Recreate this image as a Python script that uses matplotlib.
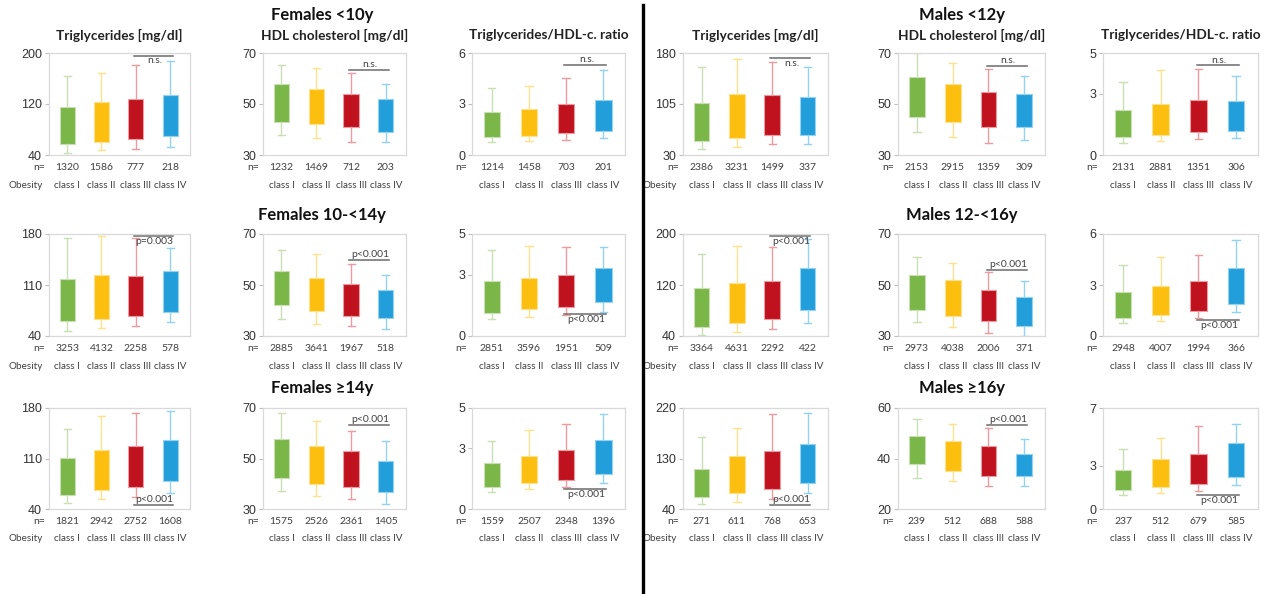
import matplotlib
matplotlib.use("Agg")
import matplotlib.pyplot as plt
from matplotlib.transforms import blended_transform_factory

plt.rcParams["font.family"] = ["Liberation Sans", "DejaVu Sans"]

classes = ["class I", "class II", "class III", "class IV"]
colors = ["#7ab648", "#fcbf10", "#c0111f", "#229fdb"]
whisker_colors = ["#c9e0b4", "#fde18c", "#eb9ca1", "#94d3f0"]

# each box: (lower whisker, q1, q3, upper whisker)
# Females <10y
f1_tg = [(43.7, 57.3, 115.5, 164.3), (47.3, 61.0, 122.4, 169.0), (50.0, 65.2, 128.1, 181.0), (52.6, 70.0, 134.4, 187.4)]
f1_hdl = [(37.9, 42.9, 57.8, 65.3), (36.7, 42.0, 56.0, 64.0), (35.0, 41.0, 53.9, 62.0), (35.0, 38.9, 51.9, 57.9)]
f1_ratio = [(0.75, 1.04, 2.52, 3.95), (0.81, 1.14, 2.70, 4.05), (0.89, 1.28, 3.01, 4.52), (1.00, 1.40, 3.23, 5.00)]
# Males <12y
m1_tg = [(38.4, 50.7, 106.2, 158.9), (42.3, 55.6, 119.5, 170.7), (46.2, 59.0, 117.5, 167.2), (46.7, 59.5, 114.6, 158.9)]
m1_hdl = [(38.9, 44.8, 60.6, 70.0), (37.0, 42.9, 57.8, 65.9), (34.9, 40.9, 54.9, 63.8), (36.0, 41.0, 54.0, 61.0)]
m1_ratio = [(0.61, 0.89, 2.21, 3.57), (0.69, 0.98, 2.52, 4.16), (0.80, 1.12, 2.70, 4.23), (0.85, 1.20, 2.66, 3.89)]
# Females 10-<14y
f2_tg = [(46.9, 60.7, 118.8, 174.5), (50.6, 64.0, 123.4, 177.7), (53.8, 67.6, 122.0, 174.0), (58.9, 73.6, 129.3, 160.7)]
f2_hdl = [(36.8, 42.0, 55.3, 63.9), (34.9, 40.0, 52.9, 62.0), (34.0, 37.9, 50.3, 58.2), (32.9, 37.0, 47.9, 54.1)]
f2_ratio = [(0.82, 1.13, 2.68, 4.21), (0.92, 1.30, 2.85, 4.41), (1.05, 1.41, 2.98, 4.36), (1.17, 1.66, 3.31, 4.36)]
# Males 12-<16y
m2_tg = [(42.1, 54.2, 114.7, 167.9), (45.8, 60.0, 122.6, 181.0), (51.6, 66.8, 126.8, 179.5), (60.0, 80.5, 146.3, 192.6)]
m2_hdl = [(35.5, 40.1, 54.0, 61.0), (33.6, 37.9, 51.8, 58.7), (31.0, 35.9, 47.9, 55.0), (30.0, 33.9, 45.1, 51.7)]
m2_ratio = [(0.77, 1.07, 2.59, 4.18), (0.87, 1.22, 2.94, 4.66), (1.07, 1.46, 3.26, 4.74), (1.40, 1.90, 4.00, 5.64)]
# Females >=14y
f3_tg = [(47.8, 59.7, 110.2, 151.0), (53.3, 65.7, 121.2, 169.4), (57.0, 70.7, 127.7, 172.7), (62.0, 79.0, 135.0, 176.3)]
f3_hdl = [(37.1, 42.2, 57.8, 67.9), (35.0, 40.0, 54.8, 64.9), (33.9, 38.8, 52.8, 60.8), (31.8, 36.7, 48.9, 56.9)]
f3_ratio = [(0.82, 1.11, 2.28, 3.36), (0.97, 1.30, 2.64, 3.89), (1.08, 1.46, 2.90, 4.23), (1.28, 1.74, 3.43, 4.70)]
# Males >=16y
m3_tg = [(48.3, 61.8, 110.8, 168.0), (53.0, 68.9, 134.4, 184.6), (58.3, 74.8, 142.7, 208.8), (68.9, 86.6, 155.7, 211.1)]
m3_hdl = [(32.1, 37.7, 48.9, 55.8), (31.0, 35.1, 46.9, 53.8), (29.0, 33.0, 44.8, 51.9), (29.0, 32.9, 41.9, 47.8)]
m3_ratio = [(0.99, 1.33, 2.71, 4.13), (1.12, 1.54, 3.44, 4.89), (1.22, 1.74, 3.81, 5.74), (1.68, 2.23, 4.54, 5.92)]

# sample sizes
n_f1_tg = [1320, 1586, 777, 218]
n_f1_hdl = [1232, 1469, 712, 203]
n_f1_ratio = [1214, 1458, 703, 201]
n_m1_tg = [2386, 3231, 1499, 337]
n_m1_hdl = [2153, 2915, 1359, 309]
n_m1_ratio = [2131, 2881, 1351, 306]
n_f2_tg = [3253, 4132, 2258, 578]
n_f2_hdl = [2885, 3641, 1967, 518]
n_f2_ratio = [2851, 3596, 1951, 509]
n_m2_tg = [3364, 4631, 2292, 422]
n_m2_hdl = [2973, 4038, 2006, 371]
n_m2_ratio = [2948, 4007, 1994, 366]
n_f3_tg = [1821, 2942, 2752, 1608]
n_f3_hdl = [1575, 2526, 2361, 1405]
n_f3_ratio = [1559, 2507, 2348, 1396]
n_m3_tg = [271, 611, 768, 653]
n_m3_hdl = [239, 512, 688, 588]
n_m3_ratio = [237, 512, 679, 585]

# y ticks per panel
ticks_f1 = [[40, 120, 200], [30, 50, 70], [0, 3, 6]]
ticks_m1 = [[30, 105, 180], [30, 50, 70], [0, 3, 5]]
ticks_f2 = [[40, 110, 180], [30, 50, 70], [0, 3, 5]]
ticks_m2 = [[40, 120, 200], [30, 50, 70], [0, 3, 6]]
ticks_f3 = [[40, 110, 180], [30, 50, 70], [0, 3, 5]]
ticks_m3 = [[40, 130, 220], [20, 40, 60], [0, 3, 7]]

# class III vs IV comparison: (line y, label, text above/below)
sig_f1 = [(196, "n.s.", "below"), (63.3, "n.s.", "above"), (5.3, "n.s.", "above")]
sig_m1 = [(172, "n.s.", "below"), (65, "n.s.", "above"), (4.4, "n.s.", "above")]
sig_f2 = [(177, "p=0.003", "below"), (59.8, "p<0.001", "above"), (1.08, "p<0.001", "below")]
sig_m2 = [(197, "p<0.001", "below"), (55.9, "p<0.001", "above"), (0.94, "p<0.001", "below")]
sig_f3 = [(45.5, "p<0.001", "above"), (63.3, "p<0.001", "above"), (0.99, "p<0.001", "below")]
sig_m3 = [(47, "p<0.001", "above"), (53.3, "p<0.001", "above"), (0.97, "p<0.001", "below")]

panel_titles = ["Triglycerides [mg/dl]", "HDL cholesterol [mg/dl]", "Triglycerides/HDL-c. ratio"]
group_titles = [["Females <10y", "Males <12y"],
                ["Females 10-<14y", "Males 12-<16y"],
                ["Females ≥14y", "Males ≥16y"]]

rows = [
    [(f1_tg, n_f1_tg), (f1_hdl, n_f1_hdl), (f1_ratio, n_f1_ratio),
     (m1_tg, n_m1_tg), (m1_hdl, n_m1_hdl), (m1_ratio, n_m1_ratio)],
    [(f2_tg, n_f2_tg), (f2_hdl, n_f2_hdl), (f2_ratio, n_f2_ratio),
     (m2_tg, n_m2_tg), (m2_hdl, n_m2_hdl), (m2_ratio, n_m2_ratio)],
    [(f3_tg, n_f3_tg), (f3_hdl, n_f3_hdl), (f3_ratio, n_f3_ratio),
     (m3_tg, n_m3_tg), (m3_hdl, n_m3_hdl), (m3_ratio, n_m3_ratio)],
]
row_ticks = [ticks_f1 + ticks_m1, ticks_f2 + ticks_m2, ticks_f3 + ticks_m3]
row_sigs = [sig_f1 + sig_m1, sig_f2 + sig_m2, sig_f3 + sig_m3]

W, H = 1266, 594
fig = plt.figure(figsize=(W / 100, H / 100), dpi=100)

col_left = [49, 263, 472, 683, 898, 1103]
col_right = [190, 406, 625, 828, 1045, 1258]
row_top = [53, 234, 408]
row_bot = [155, 336, 509]

label_font = ["Lato", "DejaVu Sans"]
text_grey = "#404040"


def draw_panel(ax, boxes, ns, ticks, sig, show_obesity):
    stats = []
    for lo, q1, q3, hi in boxes:
        stats.append(dict(whislo=lo, q1=q1, med=(q1 + q3) / 2, q3=q3, whishi=hi, fliers=[]))
    bp = ax.bxp(stats, positions=[1, 2, 3, 4], widths=0.44, capwidths=0.2,
                patch_artist=True, showfliers=False,
                medianprops=dict(linewidth=0))
    for i in range(4):
        bp["boxes"][i].set_facecolor(colors[i])
        bp["boxes"][i].set_edgecolor(whisker_colors[i])
        bp["boxes"][i].set_linewidth(0.8)
        for art in bp["whiskers"][2 * i:2 * i + 2] + bp["caps"][2 * i:2 * i + 2]:
            art.set_color(whisker_colors[i])
            art.set_linewidth(1.0)

    ax.set_xlim(0.47, 4.58)
    ax.set_ylim(ticks[0], ticks[-1])
    ax.set_yticks(ticks)
    ax.set_xticks([])
    for s in ax.spines.values():
        s.set_color("#d9d9d9")
        s.set_linewidth(0.9)
    ax.tick_params(axis="y", length=3, width=0.8, color="#bfbfbf",
                   labelsize=9, labelcolor="#333333", pad=2)

    # significance bar between class III and class IV
    y, label, side = sig
    ax.plot([2.95, 4.08], [y, y], color="#6b6b6b", linewidth=1.1, clip_on=False)
    if side == "above":
        ax.annotate(label, (3.55, y), xytext=(0, 0.5), textcoords="offset points",
                    ha="center", va="bottom", fontsize=7.5, color=text_grey, family=label_font)
    else:
        ax.annotate(label, (3.55, y), xytext=(0, -0.5), textcoords="offset points",
                    ha="center", va="top", fontsize=7.5, color=text_grey, family=label_font)

    tr = blended_transform_factory(ax.transData, ax.transAxes)
    for i in range(4):
        ax.text(i + 1, -0.125, str(ns[i]), transform=tr, ha="center", va="center",
                fontsize=7.5, color=text_grey, family=label_font)
        ax.text(i + 1, -0.295, classes[i], transform=tr, ha="center", va="center",
                fontsize=7.1, color=text_grey, family=label_font)
    ax.text(-0.03, -0.125, "n=", transform=ax.transAxes, ha="right", va="center",
            fontsize=7.5, color=text_grey, family=label_font)
    if show_obesity:
        ax.text(-0.04, -0.295, "Obesity", transform=ax.transAxes, ha="right", va="center",
                fontsize=7.1, color=text_grey, family=label_font)


for r in range(3):
    for c in range(6):
        left = col_left[c] / W
        bottom = 1 - row_bot[r] / H
        width = (col_right[c] - col_left[c]) / W
        height = (row_bot[r] - row_top[r]) / H
        ax = fig.add_axes([left, bottom, width, height])
        boxes, ns = rows[r][c]
        draw_panel(ax, boxes, ns, row_ticks[r][c], row_sigs[r][c], c in (0, 3))
        if r == 0:
            ax.text(0.5, 1.176, panel_titles[c % 3], transform=ax.transAxes,
                    ha="center", va="center", fontsize=9.8, fontweight="bold",
                    color="#222222", family=label_font)

# group titles above the HDL panels
title_y = [15, 215, 388]
for r in range(3):
    fig.text(322 / W, 1 - title_y[r] / H, group_titles[r][0], ha="center", va="center",
             fontsize=12, fontweight="bold", color="#111111", family=label_font)
    fig.text(962 / W, 1 - title_y[r] / H, group_titles[r][1], ha="center", va="center",
             fontsize=12, fontweight="bold", color="#111111", family=label_font)

# divider between females and males
fig.add_artist(plt.Line2D([643 / W, 643 / W], [0, 1 - 5 / H], color="black", linewidth=2.4))

fig.savefig("out.png", dpi=100, facecolor="white")
